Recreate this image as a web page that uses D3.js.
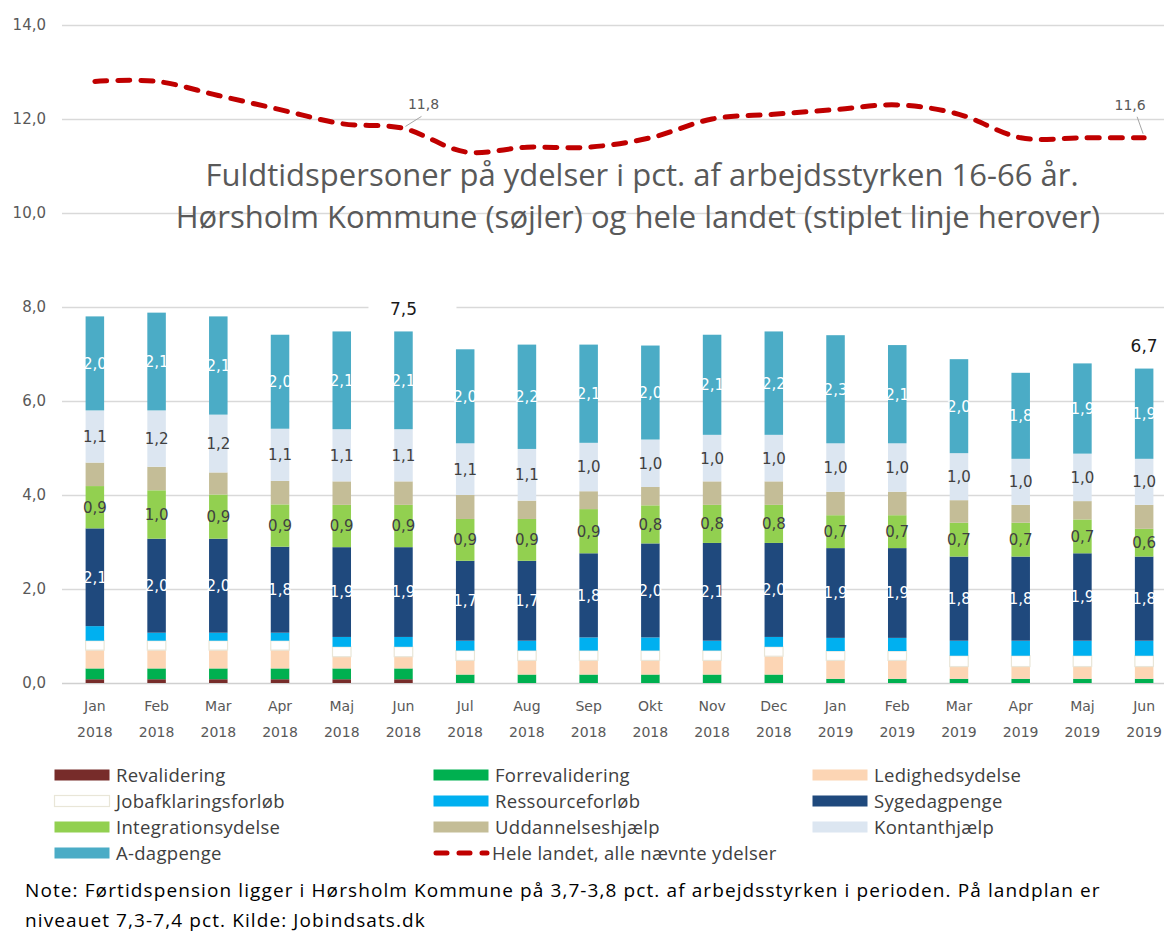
<!DOCTYPE html>
<html>
<head>
<meta charset="utf-8">
<script src="https://cdn.jsdelivr.net/npm/d3@7"></script>
<style>
  body { margin: 0; background: #fff; }
  svg text { font-family: "DejaVu Sans", sans-serif; }
</style>
</head>
<body>
<div id="myChart"></div>
<script>
const months = ["Jan", "Feb", "Mar", "Apr", "Maj", "Jun", "Jul", "Aug", "Sep", "Okt", "Nov", "Dec", "Jan", "Feb", "Mar", "Apr", "Maj", "Jun"];
const years = ["2018", "2018", "2018", "2018", "2018", "2018", "2018", "2018", "2018", "2018", "2018", "2018", "2019", "2019", "2019", "2019", "2019", "2019"];

const revalidering = [0.08, 0.08, 0.08, 0.08, 0.08, 0.08, 0, 0, 0, 0, 0, 0, 0, 0, 0, 0, 0, 0];
const forrevalidering = [0.23, 0.23, 0.23, 0.23, 0.23, 0.23, 0.18, 0.18, 0.18, 0.18, 0.18, 0.18, 0.09, 0.09, 0.09, 0.09, 0.09, 0.09];
const ledighedsydelse = [0.39, 0.39, 0.39, 0.39, 0.25, 0.25, 0.3, 0.3, 0.3, 0.3, 0.3, 0.39, 0.39, 0.39, 0.26, 0.26, 0.26, 0.26];
const jobafklaring = [0.2, 0.2, 0.2, 0.2, 0.21, 0.21, 0.21, 0.21, 0.21, 0.21, 0.21, 0.2, 0.2, 0.2, 0.23, 0.23, 0.23, 0.23];
const ressourceforloeb = [0.31, 0.17, 0.17, 0.17, 0.21, 0.21, 0.21, 0.21, 0.28, 0.28, 0.21, 0.21, 0.28, 0.28, 0.32, 0.32, 0.32, 0.32];
const sygedagpenge = [2.08, 2.0, 2.0, 1.83, 1.91, 1.91, 1.7, 1.7, 1.79, 2.0, 2.08, 2.0, 1.91, 1.91, 1.79, 1.79, 1.86, 1.79];
const integration = [0.9, 1.03, 0.94, 0.9, 0.9, 0.9, 0.89, 0.89, 0.94, 0.81, 0.81, 0.81, 0.7, 0.7, 0.72, 0.72, 0.72, 0.59];
const uddannelse = [0.5, 0.5, 0.47, 0.5, 0.5, 0.5, 0.51, 0.39, 0.38, 0.39, 0.5, 0.5, 0.5, 0.5, 0.48, 0.38, 0.39, 0.51];
const kontanthjaelp = [1.11, 1.2, 1.23, 1.11, 1.11, 1.11, 1.1, 1.1, 1.03, 1.01, 0.99, 0.99, 1.03, 1.03, 1.0, 0.98, 1.01, 0.98];
const adagpenge = [2.0, 2.08, 2.09, 2.0, 2.08, 2.08, 2.0, 2.22, 2.09, 2.0, 2.13, 2.2, 2.3, 2.09, 2.0, 1.83, 1.92, 1.92];
const heleLandet = [12.8, 12.8, 12.5, 12.2, 11.9, 11.8, 11.3, 11.4, 11.4, 11.6, 12.0, 12.1, 12.2, 12.3, 12.1, 11.6, 11.6, 11.6];

const yTicks = [0, 2, 4, 6, 8, 10, 12, 14];

// serier i stak-rækkefølge (nederst først)
const series = [
  { name: "Revalidering", values: revalidering, color: "#772c2a" },
  { name: "Forrevalidering", values: forrevalidering, color: "#00b050" },
  { name: "Ledighedsydelse", values: ledighedsydelse, color: "#fcd5b4" },
  { name: "Jobafklaringsforløb", values: jobafklaring, color: "#ffffff", stroke: "#e9e6d8" },
  { name: "Ressourceforløb", values: ressourceforloeb, color: "#00b0f0" },
  { name: "Sygedagpenge", values: sygedagpenge, color: "#1f497d", label: "#ffffff" },
  { name: "Integrationsydelse", values: integration, color: "#92d050", label: "#404040" },
  { name: "Uddannelseshjælp", values: uddannelse, color: "#c4bd97" },
  { name: "Kontanthjælp", values: kontanthjaelp, color: "#dce6f1", label: "#404040" },
  { name: "A-dagpenge", values: adagpenge, color: "#4bacc6", label: "#ffffff" }
];

const da = d3.formatLocale({ decimal: ",", thousands: ".", grouping: [3], currency: ["", " kr"] });
const fmt = da.format(".1f");

const W = 1164, H = 935;
const svg = d3.select("#myChart").append("svg").attr("width", W).attr("height", H);

const x = d3.scaleBand().domain(d3.range(months.length)).range([64, 1175]).paddingInner(0.7).paddingOuter(0.35);
const y = d3.scaleLinear().domain([0, 14]).range([683, 25]);

// gitterlinjer
svg.append("g")
  .selectAll("line")
  .data(yTicks)
  .enter()
  .append("line")
  .attr("x1", 62)
  .attr("x2", 1175)
  .attr("y1", (d) => y(d) + 0.5)
  .attr("y2", (d) => y(d) + 0.5)
  .attr("stroke", (d) => (d === 0 ? "#d0d0d0" : "#d9d9d9"))
  .attr("stroke-width", 1.3);

// y-akse labels
svg.append("g")
  .selectAll("text")
  .data(yTicks)
  .enter()
  .append("text")
  .attr("x", 46)
  .attr("y", (d) => y(d))
  .attr("dy", "0.35em")
  .attr("text-anchor", "end")
  .style("font-size", "15px")
  .attr("fill", "#595959")
  .text((d) => fmt(d));

// x-akse labels
const xl = svg.append("g")
  .selectAll("text")
  .data(months)
  .enter()
  .append("text")
  .attr("text-anchor", "middle")
  .style("font-size", "14px")
  .attr("fill", "#595959");
xl.append("tspan").attr("x", (d, i) => x(i) + x.bandwidth() / 2).attr("y", 711).text((d) => d);
xl.append("tspan").attr("x", (d, i) => x(i) + x.bandwidth() / 2).attr("y", 737).text((d, i) => years[i]);

// titel (ligger over gitterlinjerne)
const title = svg.append("text")
  .attr("text-anchor", "middle")
  .style("font-family", "'Open Sans', sans-serif")
  .style("font-size", "31px")
  .attr("fill", "#595959");
title.append("tspan").attr("x", 642).attr("y", 186).text("Fuldtidspersoner på ydelser i pct. af arbejdsstyrken 16-66 år.");
title.append("tspan").attr("x", 638).attr("y", 228).text("Hørsholm Kommune (søjler) og hele landet (stiplet linje herover)");

// stablede søjler
const stack = d3.stack()
  .keys(d3.range(series.length))
  .value((d, k) => series[k].values[d]);
const stacked = stack(d3.range(months.length));

const layers = svg.append("g")
  .selectAll("g")
  .data(stacked)
  .enter()
  .append("g")
  .attr("fill", (d) => series[d.key].color);

layers.selectAll("rect")
  .data((d) => d.map((v, i) => ({ v: v, i: i, s: series[d.key] })))
  .enter()
  .append("rect")
  .attr("x", (d) => x(d.i))
  .attr("width", x.bandwidth())
  .attr("y", (d) => y(d.v[1]))
  .attr("height", (d) => Math.max(0, y(d.v[0]) - y(d.v[1])))
  .attr("stroke", (d) => d.s.stroke || "none")
  .attr("stroke-width", 1.2);

// værdier i søjlerne
layers.filter((d) => series[d.key].label)
  .selectAll("text")
  .data((d) => d.map((v, i) => ({ v: v, i: i, s: series[d.key] })))
  .enter()
  .append("text")
  .attr("x", (d) => x(d.i) + x.bandwidth() / 2)
  .attr("y", (d) => y((d.v[0] + d.v[1]) / 2))
  .attr("dy", "0.36em")
  .attr("text-anchor", "middle")
  .style("font-size", "15px")
  .attr("fill", (d) => d.s.label)
  .text((d) => fmt(d.v[1] - d.v[0]));

// total labels på Jun 2018 og Jun 2019
const totals = d3.range(months.length).map((i) => d3.sum(series, (s) => s.values[i]));
const totalIdx = [5, 17];
const tl = svg.append("g").selectAll("g").data(totalIdx).enter().append("g");
tl.append("rect")
  .attr("x", (i) => x(i) + x.bandwidth() / 2 - 35)
  .attr("y", (i) => y(totals[i]) - 35)
  .attr("width", 88)
  .attr("height", 24)
  .attr("fill", "#fff");
tl.append("text")
  .attr("x", (i) => x(i) + x.bandwidth() / 2)
  .attr("y", (i) => y(totals[i]) - 23)
  .attr("dy", "0.36em")
  .attr("text-anchor", "middle")
  .style("font-size", "17px")
  .attr("fill", "#1a1a1a")
  .text((i) => fmt(totals[i]));

// hele landet, stiplet linje
const line = d3.line()
  .x((d, i) => x(i) + x.bandwidth() / 2)
  .y((d) => y(d))
  .curve(d3.curveCatmullRom.alpha(0));

svg.append("path")
  .datum(heleLandet)
  .attr("d", line)
  .attr("fill", "none")
  .attr("stroke", "#c00000")
  .attr("stroke-width", 5)
  .attr("stroke-dasharray", "12,11")
  .attr("stroke-linecap", "round");

// labels på linjen
const lineLabels = [
  { i: 5, dx: 20, dy: -24, lx1: 18, ly1: -12, lx2: 2, ly2: -2 },
  { i: 17, dx: -14, dy: -33, lx1: -7, ly1: -21, lx2: -1, ly2: -4 }
];
lineLabels.forEach((l) => {
  const px = x(l.i) + x.bandwidth() / 2, py = y(heleLandet[l.i]);
  svg.append("line")
    .attr("x1", px + l.lx1).attr("y1", py + l.ly1)
    .attr("x2", px + l.lx2).attr("y2", py + l.ly2)
    .attr("stroke", "#a6a6a6").attr("stroke-width", 1);
  svg.append("text")
    .attr("x", px + l.dx)
    .attr("y", py + l.dy)
    .attr("dy", "0.36em")
    .attr("text-anchor", "middle")
    .style("font-size", "14px")
    .attr("fill", "#595959")
    .text(fmt(heleLandet[l.i]));
});

// legend
const legendItems = series.map((s) => ({ name: s.name, color: s.color, stroke: s.stroke }));
legendItems.push({ name: "Hele landet, alle nævnte ydelser", line: true });
const colX = [54, 433, 812];
const lg = svg.append("g")
  .selectAll("g")
  .data(legendItems)
  .enter()
  .append("g")
  .attr("transform", (d, i) => "translate(" + colX[i % 3] + "," + (775 + Math.floor(i / 3) * 26) + ")");

lg.filter((d) => !d.line)
  .append("rect")
  .attr("x", 0.5)
  .attr("y", -5.5)
  .attr("width", 55)
  .attr("height", 11)
  .attr("fill", (d) => d.color)
  .attr("stroke", (d) => d.stroke || "none")
  .attr("stroke-width", 1.2);

lg.filter((d) => d.line)
  .append("line")
  .attr("x1", 3).attr("x2", 54)
  .attr("y1", 0).attr("y2", 0)
  .attr("stroke", "#c00000")
  .attr("stroke-width", 5)
  .attr("stroke-dasharray", "11,12")
  .attr("stroke-linecap", "round");

lg.append("text")
  .attr("x", (d) => (d.line ? 59 : 62))
  .attr("y", 0)
  .attr("dy", "0.36em")
  .style("font-family", "'Open Sans', sans-serif")
  .style("font-size", "18.5px")
  .style("letter-spacing", "0.3px")
  .attr("fill", "#404040")
  .text((d) => d.name);

// note
const note = svg.append("text")
  .style("font-family", "'Open Sans', sans-serif")
  .style("font-size", "19px")
  .style("letter-spacing", "1.1px")
  .attr("fill", "#000");
note.append("tspan").attr("x", 25).attr("y", 897).text("Note: Førtidspension ligger i Hørsholm Kommune på 3,7-3,8 pct. af arbejdsstyrken i perioden. På landplan er");
note.append("tspan").attr("x", 25).attr("y", 927).text("niveauet 7,3-7,4 pct. Kilde: Jobindsats.dk");
</script>
</body>
</html>
